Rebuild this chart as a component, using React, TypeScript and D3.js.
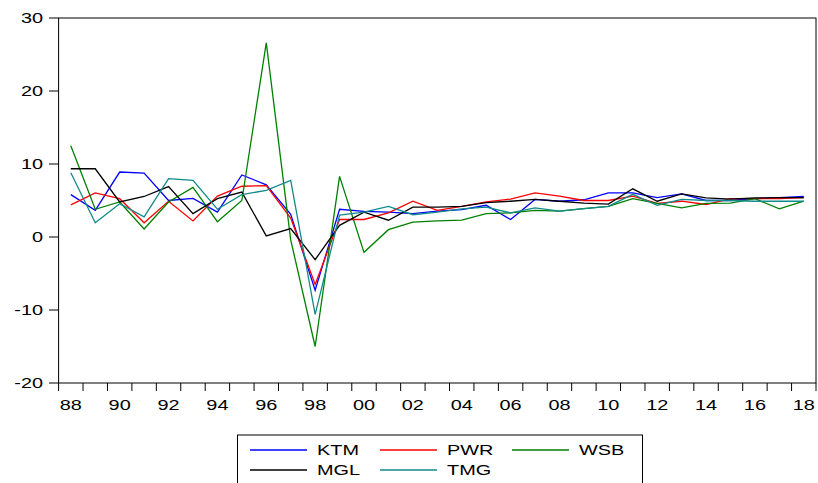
import React from 'react';
import * as d3 from 'd3';

const years = d3.range(1988, 2019);
const yTicks = [-20, -10, 0, 10, 20, 30];
const xLabelYears = d3.range(1988, 2019, 2);

const KTM = [5.8, 3.65, 8.9, 8.75, 5.0, 5.3, 3.4, 8.5, 7.15, 3.1, -7.3, 3.8, 3.5, 3.4, 3.2, 3.55, 3.75, 4.35, 2.4, 5.15, 4.9, 5.1, 6.05, 6.05, 5.4, 5.9, 5.0, 5.0, 5.25, 5.4, 5.55];
const PWR = [4.4, 6.05, 5.25, 1.95, 4.9, 2.2, 5.6, 6.95, 7.05, 2.6, -6.5, 2.4, 2.4, 3.3, 4.9, 3.65, 4.2, 4.8, 5.2, 6.05, 5.6, 5.0, 5.0, 5.6, 4.6, 4.9, 4.45, 5.25, 5.25, 5.25, 5.4];
const WSB = [12.5, 3.8, 4.8, 1.1, 4.8, 6.8, 2.1, 5.0, 26.6, -0.4, -15.0, 8.3, -2.1, 1.0, 2.05, 2.2, 2.3, 3.2, 3.3, 3.65, 3.55, 3.9, 4.2, 5.25, 4.6, 4.0, 4.6, 4.65, 5.25, 3.85, 4.9];
const MGL = [9.35, 9.35, 4.8, 5.55, 6.9, 3.2, 5.25, 6.15, 0.15, 1.15, -3.1, 1.6, 3.4, 2.3, 4.1, 4.1, 4.2, 4.7, 4.9, 5.15, 4.9, 4.65, 4.5, 6.6, 4.9, 5.9, 5.35, 5.2, 5.35, 5.4, 5.4];
const TMG = [8.8, 1.95, 4.55, 2.75, 8.0, 7.75, 3.8, 5.8, 6.4, 7.75, -10.6, 3.0, 3.4, 4.2, 3.05, 3.4, 3.85, 4.1, 3.3, 4.0, 3.55, 3.9, 4.2, 5.85, 4.35, 5.15, 5.0, 5.0, 4.9, 4.9, 4.9];

const series = [
  { name: 'KTM', values: KTM, color: '#0000ff' },
  { name: 'PWR', values: PWR, color: '#ff0000' },
  { name: 'WSB', values: WSB, color: '#008000' },
  { name: 'MGL', values: MGL, color: '#000000' },
  { name: 'TMG', values: TMG, color: '#118a8a' },
];

const FONT = '"Liberation Sans", Arial, sans-serif';
const SX = 1.42; // text in the reference is stretched horizontally

function Txt({ x, y, anchor, children }: { x: number; y: number; anchor: string; children: any }) {
  return (
    <text
      transform={`translate(${x},${y}) scale(${SX},1)`}
      textAnchor={anchor}
      fontFamily={FONT}
      fontSize={14}
      fill="#000"
    >
      {children}
    </text>
  );
}

export default function App() {
  const width = 818;
  const height = 483;
  const left = 58.6;
  const right = 816;
  const top = 18;
  const bottom = 383;

  const x = d3.scaleLinear().domain([1987.5, 2018.5]).range([left, right]);
  const y = d3.scaleLinear().domain([-20, 30]).range([bottom, top]);

  const line = d3
    .line<number>()
    .x((d, i) => x(years[i]))
    .y((d) => y(d));

  const boundaries = d3.range(1987.5, 2019, 1);

  // legend layout
  const legendItems = [
    { s: series[0], lx: 250, row: 0 },
    { s: series[1], lx: 380, row: 0 },
    { s: series[2], lx: 512, row: 0 },
    { s: series[3], lx: 250, row: 1 },
    { s: series[4], lx: 380, row: 1 },
  ];

  return (
    <svg
      width={width}
      height={height}
      style={{ position: 'absolute', left: 0, top: 0, background: '#fff' }}
    >
      <rect x={0} y={0} width={width} height={height} fill="#fff" />
      <rect x={left} y={top} width={right - left} height={bottom - top} fill="none" stroke="#000" strokeWidth={1} />

      {yTicks.map((t) => (
        <g key={t}>
          <line x1={49} x2={left} y1={y(t)} y2={y(t)} stroke="#000" strokeWidth={1} />
          <Txt x={43} y={y(t) + 5} anchor="end">{t}</Txt>
        </g>
      ))}

      {boundaries.map((b) => (
        <line key={b} x1={x(b)} x2={x(b)} y1={bottom} y2={bottom + 8} stroke="#000" strokeWidth={1} />
      ))}
      {xLabelYears.map((yr) => (
        <Txt key={yr} x={x(yr)} y={410} anchor="middle">
          {String(yr % 100).padStart(2, '0')}
        </Txt>
      ))}

      {series.map((s) => (
        <path key={s.name} d={line(s.values) || ''} fill="none" stroke={s.color} strokeWidth={1.3} strokeLinejoin="miter" />
      ))}

      <rect x={237.5} y={435} width={405} height={60} fill="#fff" stroke="#000" strokeWidth={1} />
      {legendItems.map(({ s, lx, row }) => {
        const ly = 450 + row * 20;
        return (
          <g key={s.name}>
            <line x1={lx} x2={lx + 57} y1={ly} y2={ly} stroke={s.color} strokeWidth={1.3} />
            <Txt x={lx + 67} y={ly + 5} anchor="start">{s.name}</Txt>
          </g>
        );
      })}
    </svg>
  );
}
